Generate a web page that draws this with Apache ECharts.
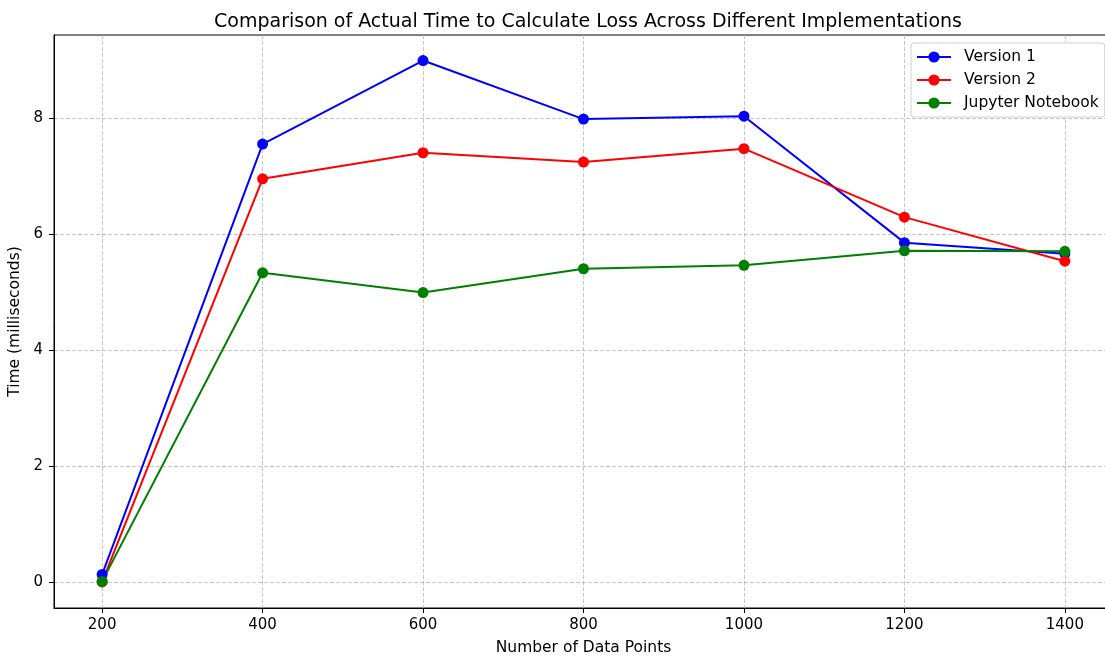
<!DOCTYPE html>
<html>
<head>
<meta charset="utf-8">
<script src="https://cdn.jsdelivr.net/npm/echarts@6/dist/echarts.min.js"></script>
<style>html,body{margin:0;padding:0;background:#fff;}#c{width:1105px;height:658px;}</style>
</head>
<body>
<div id="c"></div>
<script>
const dataPoints = [200, 400, 600, 800, 1000, 1200, 1400];
const version1 = [0.13, 7.55, 8.99, 7.98, 8.03, 5.85, 5.66];
const version2 = [0.00, 6.95, 7.40, 7.24, 7.47, 6.29, 5.53];
const jupyter = [0.01, 5.33, 4.99, 5.40, 5.46, 5.71, 5.70];
const xTicks = [200, 400, 600, 800, 1000, 1200, 1400];
const yTicks = [0, 2, 4, 6, 8];

const font = 'DejaVu Sans';
function mk(name, vals, color) {
  return {
    name: name, type: 'line', data: dataPoints.map((x, i) => [x, vals[i]]),
    symbol: 'circle', symbolSize: 11, showSymbol: true,
    lineStyle: { color: color, width: 2 }, itemStyle: { color: color },
    emphasis: { disabled: true }, animation: false
  };
}
const chart = echarts.init(document.getElementById('c'), null, { renderer: 'canvas' });
chart.setOption({
  backgroundColor: '#fff',
  animation: false,
  title: {
    text: 'Comparison of Actual Time to Calculate Loss Across Different Implementations',
    left: 583, textAlign: 'center', top: 8,
    textStyle: { fontFamily: font, fontSize: 19, fontWeight: 'normal', color: '#000' }
  },
  legend: {
    left: 911, top: 43, orient: 'vertical', itemGap: 7,
    itemWidth: 34, itemHeight: 14,
    backgroundColor: '#fff', borderColor: '#d0d0d0', borderWidth: 1, borderRadius: 3,
    padding: [6, 6, 6, 5],
    textStyle: { fontFamily: font, fontSize: 15.5, color: '#000', padding: [0, 0, 0, 8] }
  },
  grid: { left: 54, top: 35, width: 1059, bottom: 50, containLabel: false, outerBoundsMode: 'none', show: true, borderColor: '#000', borderWidth: 1 },
  xAxis: {
    type: 'value', min: 140, max: 1460,
    name: 'Number of Data Points', nameLocation: 'middle', nameGap: 32,
    nameTextStyle: { fontFamily: font, fontSize: 15.5, color: '#000' },
    axisLine: { show: true, onZero: false, lineStyle: { color: '#000', width: 1 } },
    axisTick: { show: true, length: 5, lineStyle: { color: '#000' }, customValues: xTicks },
    axisLabel: { fontFamily: font, fontSize: 15, color: '#000', margin: 10, customValues: xTicks, formatter: v => String(v) },
    splitLine: { show: true, lineStyle: { color: '#b8b8b8', type: [4, 2], width: 0.8 } }
  },
  yAxis: {
    type: 'value', min: -0.449, max: 9.43,
    name: 'Time (milliseconds)', nameLocation: 'middle', nameGap: 25,
    nameTextStyle: { fontFamily: font, fontSize: 15.5, color: '#000' },
    axisLine: { show: true, onZero: false, lineStyle: { color: '#000', width: 1 } },
    axisTick: { show: true, length: 5, lineStyle: { color: '#000' }, customValues: yTicks },
    axisLabel: { fontFamily: font, fontSize: 15, color: '#000', margin: 11, customValues: yTicks, formatter: v => String(v) },
    splitLine: { show: true, lineStyle: { color: '#b8b8b8', type: [4, 2], width: 0.8 } }
  },
  series: [
    mk('Version 1', version1, '#0000ff'),
    mk('Version 2', version2, '#ff0000'),
    mk('Jupyter Notebook', jupyter, '#008000')
  ]
});
</script>
</body>
</html>
